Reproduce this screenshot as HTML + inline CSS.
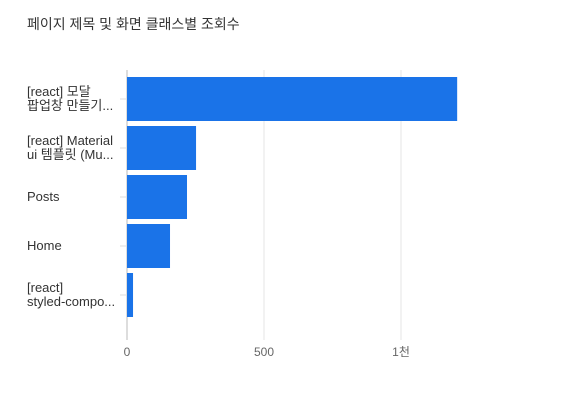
<!DOCTYPE html>
<html><head><meta charset="utf-8"><style>
body{margin:0;background:#fff;}
svg{display:block;font-family:"Liberation Sans","Noto Sans CJK KR",sans-serif;}
</style></head><body>
<svg id="c" width="561" height="400">
<text x="27" y="29" font-size="14" fill="#333">페이지 제목 및 화면 클래스별 조회수</text>
<g id="grid"></g><g id="bars"></g><g id="labels"></g>
</svg>
<script>
const categories=[["[react] 모달","팝업창 만들기..."],["[react] Material","ui 템플릿 (Mu..."],["Posts"],["Home"],["[react]","styled-compo..."]];
const values=[1205,252,219,157,22];
const ticks=[0,500,1000];
const tickLabels=["0","500","1천"];
const NS="http://www.w3.org/2000/svg";
const x0=127,pxPer=137/500,plotTop=73,band=49,barH=44,plotBottom=340;
const X=v=>x0+v*pxPer;
function mk(t,a,p){const e=document.createElementNS(NS,t);for(const k in a)e.setAttribute(k,a[k]);p.appendChild(e);return e;}
const gG=document.getElementById('grid'),gB=document.getElementById('bars'),gL=document.getElementById('labels');
ticks.forEach((t,i)=>{
 const ln=mk('line',{x1:X(t),x2:X(t),y1:70,y2:plotBottom,stroke:t===0?'#bbb':'#e6e6e6','stroke-width':1},gG);
 
 
 const tx=mk('text',{x:X(t),y:356,'font-size':12,fill:'#666','text-anchor':'middle'},gL);
 tx.textContent=tickLabels[i];
 
 
});
values.forEach((v,i)=>{
 const y=plotTop+4+i*band;
 const r=mk('rect',{x:x0,y:y,width:X(v)-x0,height:barH,fill:'#1a73e8'},gB);
 
 
 const cy=y+barH/2;
 const tk=mk('line',{x1:120,x2:127,y1:cy,y2:cy,stroke:'#ddd'},gG);
 
 
 const lines=categories[i];
 const tx=mk('text',{x:27,'font-size':13,fill:'#333'},gL);
 
 
 lines.forEach((s,j)=>{const ts=mk('tspan',{x:27,y:cy+4+(j-(lines.length-1)/2)*14},tx);ts.textContent=s;});
});
</script>
</body></html>
